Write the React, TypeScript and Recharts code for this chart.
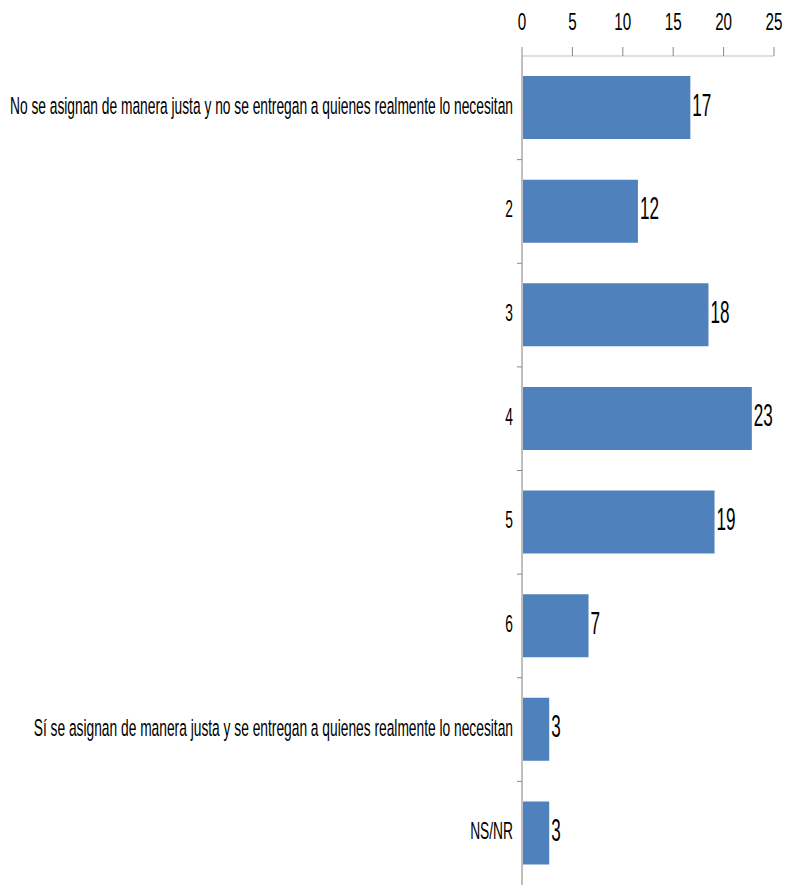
import { BarChart, Bar, XAxis, YAxis, LabelList } from "recharts"

const categories = [
  "No se asignan de manera justa y no se entregan a quienes realmente lo necesitan",
  "2",
  "3",
  "4",
  "5",
  "6",
  "Sí se asignan de manera justa y se entregan a quienes realmente lo necesitan",
  "NS/NR",
]
const values = [16.7, 11.5, 18.5, 22.8, 19.1, 6.6, 2.7, 2.7]
const labels = ["17", "12", "18", "23", "19", "7", "3", "3"]
const xTicks = [0, 5, 10, 15, 20, 25]

const data = categories.map((name, i) => ({ name, value: values[i], label: labels[i] }))

const W = 785
const H = 885
const TOP = 56
const YW = 522
const BAND = (H - TOP) / categories.length
const FONT = "'Liberation Sans Narrow', 'Liberation Sans', sans-serif"

const XTick = (props: any) => {
  const { x, payload } = props
  return (
    <g transform={`translate(${x},${30}) scale(0.95,1.5)`}>
      <text x={0} y={0} textAnchor="middle" fontFamily={FONT} fontSize={16} fill="#000">
        {payload.value}
      </text>
    </g>
  )
}

const YTick = (props: any) => {
  const { y, payload, index } = props
  return (
    <g>
      <g transform={`translate(${YW - 9},${y + 6}) scale(0.835,1.45)`}>
        <text x={0} y={0} textAnchor="end" fontFamily={FONT} fontSize={16.5} fill="#000">
          {payload.value}
        </text>
      </g>
      {index < categories.length - 1 && (
        <line x1={YW - 5} x2={YW} y1={y + BAND / 2} y2={y + BAND / 2} stroke="#888" strokeWidth={1} />
      )}
    </g>
  )
}

const ValueLabel = (props: any) => {
  const { x, y, width, height, value } = props
  return (
    <g transform={`translate(${x + width + 2},${y + height / 2 + 8}) scale(0.95,1.75)`}>
      <text x={0} y={0} textAnchor="start" fontFamily={FONT} fontSize={18} fill="#000">
        {value}
      </text>
    </g>
  )
}

export default function App() {
  return (
    <div style={{ width: W, height: H, background: "#fff" }}>
      <style>{`body{margin:0}`}</style>
      <BarChart
        width={W}
        height={H}
        data={data}
        layout="vertical"
        margin={{ top: 0, right: 11, bottom: 0, left: 0 }}
        barSize={63}
      >
        <XAxis
          type="number"
          orientation="top"
          domain={[0, 25]}
          ticks={xTicks}
          height={TOP}
          tickSize={9}
          axisLine={{ stroke: "#bfbfbf" }}
          tickLine={{ stroke: "#888" }}
          tick={<XTick />}
        />
        <YAxis
          type="category"
          dataKey="name"
          width={YW}
          axisLine={{ stroke: "#bfbfbf", strokeWidth: 2 }}
          tickLine={false}
          tick={<YTick />}
          interval={0}
        />
        <Bar dataKey="value" fill="#4f81bd" isAnimationActive={false}>
          <LabelList dataKey="label" content={<ValueLabel />} />
        </Bar>
      </BarChart>
    </div>
  )
}
